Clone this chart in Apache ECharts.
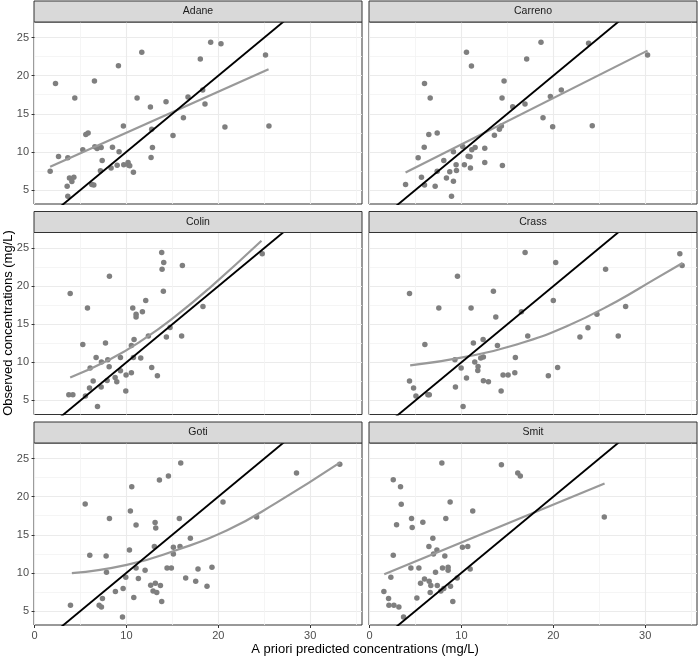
<!DOCTYPE html>
<html>
<head>
<meta charset="utf-8">
<style>html,body{margin:0;padding:0;background:#fff;}#c{width:699px;height:658px;}</style>
<script src="https://cdn.jsdelivr.net/npm/echarts@6/dist/echarts.min.js"></script>
</head>
<body>
<div id="c"></div>
<script>
const categories = ['Adane', 'Carreno', 'Colin', 'Crass', 'Goti', 'Smit'];
const xTicks = [0, 10, 20, 30];
const xMinor = [5, 15, 25, 35];
const yTicks = [5, 10, 15, 20, 25];
const yMinor = [7.5, 12.5, 17.5, 22.5];
const X_MIN = -0.06, X_MAX = 35.64, Y_MIN = 3.15, Y_MAX = 27.05;

const adane = [[1.70,7.46],[2.28,18.99],[2.61,9.39],[3.62,9.21],[3.55,5.48],[3.62,4.17],[3.80,6.58],[4.06,6.10],[4.28,6.67],[4.38,17.06],[5.25,10.26],[5.58,12.28],[5.83,12.46],[6.23,5.70],[6.45,5.66],[6.52,19.30],[6.56,10.66],[6.81,10.44],[7.25,10.57],[7.17,7.50],[7.36,8.86],[8.33,7.89],[8.48,10.61],[8.99,8.25],[9.13,21.32],[9.20,10.00],[9.67,13.38],[9.71,8.29],[10.18,8.60],[10.25,8.25],[10.36,8.16],[10.76,7.32],[11.16,17.06],[11.67,23.07],[12.61,15.88],[12.75,12.98],[12.83,10.57],[12.68,9.25],[14.31,16.58],[15.07,12.15],[16.20,14.47],[16.70,17.19],[18.04,22.19],[18.30,18.11],[18.55,16.27],[19.17,24.39],[20.29,24.21],[20.72,13.25],[25.14,22.72],[25.51,13.38]];
const carreno = [[3.92,5.70],[5.29,9.21],[5.65,6.67],[5.98,18.99],[5.95,10.61],[5.98,5.66],[6.45,12.28],[6.60,17.06],[7.14,5.48],[7.36,12.46],[7.36,7.46],[8.08,8.86],[8.37,6.58],[8.73,7.37],[8.92,4.17],[9.13,6.14],[9.13,10.00],[9.42,8.29],[9.46,7.54],[10.14,10.70],[10.32,8.29],[10.55,23.07],[10.73,9.43],[10.94,9.34],[10.98,7.89],[11.09,21.27],[11.13,10.26],[11.49,10.57],[12.54,10.48],[12.54,8.60],[13.59,12.19],[14.13,12.98],[14.35,13.38],[14.42,17.06],[14.46,8.20],[14.64,19.30],[15.58,15.92],[16.92,16.27],[17.10,22.19],[18.66,24.39],[18.88,14.47],[19.68,17.28],[19.93,13.29],[20.87,18.11],[23.84,24.25],[24.24,13.42],[30.26,22.72]];
const colin = [[3.73,5.74],[4.17,5.74],[3.88,19.05],[5.25,12.35],[5.54,5.57],[5.76,17.12],[5.98,6.62],[6.05,9.24],[6.38,7.54],[6.70,10.65],[6.85,4.21],[7.25,6.75],[7.28,10.03],[7.72,12.53],[7.90,7.63],[7.97,10.34],[8.12,9.42],[8.15,21.32],[8.77,8.02],[8.95,7.45],[9.35,10.65],[9.35,8.89],[9.96,8.33],[9.93,6.23],[10.54,8.63],[10.54,12.22],[10.69,17.12],[10.76,10.65],[10.83,13.01],[11.05,16.33],[11.05,15.94],[11.56,10.56],[11.74,16.64],[12.10,18.13],[12.39,13.45],[12.75,9.33],[13.37,8.24],[13.84,24.43],[13.88,22.24],[14.06,23.12],[14.02,19.35],[14.35,13.32],[14.75,14.58],[16.01,13.45],[16.09,22.72],[18.33,17.34],[24.78,24.26]];
const crass = [[4.35,7.54],[4.35,19.05],[4.79,6.62],[5.05,5.57],[6.02,12.35],[6.35,5.74],[6.50,5.74],[7.54,17.12],[9.29,10.34],[9.35,6.75],[9.57,21.32],[9.97,9.24],[10.18,4.21],[10.55,7.93],[11.05,17.12],[11.30,12.53],[11.45,10.03],[11.81,9.46],[11.78,8.94],[12.10,10.56],[12.39,10.69],[12.36,13.01],[12.39,7.58],[12.94,7.45],[13.48,19.35],[13.74,15.94],[13.92,12.22],[14.32,6.23],[14.53,8.33],[15.08,8.33],[15.81,8.63],[15.87,10.65],[16.53,16.64],[16.93,24.43],[17.22,13.45],[19.46,8.24],[20.00,18.13],[20.26,23.12],[20.47,9.33],[22.90,13.32],[23.77,14.54],[24.75,16.33],[25.69,22.24],[27.07,13.45],[27.87,17.34],[33.77,24.26],[34.02,22.72]];
const goti = [[3.91,5.74],[5.51,19.05],[6.01,12.31],[7.03,5.74],[7.28,5.52],[7.39,6.62],[7.79,12.22],[7.83,10.08],[8.15,17.12],[8.80,7.54],[9.57,4.21],[9.64,7.93],[9.93,9.42],[10.33,13.01],[10.43,18.13],[10.58,21.32],[10.80,6.75],[11.05,16.29],[11.05,10.65],[11.30,9.24],[12.03,10.34],[12.64,8.37],[12.90,7.63],[13.04,13.45],[13.12,16.60],[13.19,15.90],[13.15,8.63],[13.30,7.41],[13.59,22.20],[13.70,8.33],[13.84,6.23],[14.42,10.65],[14.57,22.72],[14.89,10.65],[15.11,13.36],[15.11,12.48],[15.76,17.12],[15.83,13.45],[15.91,24.43],[16.45,9.33],[16.96,14.54],[17.54,8.89],[17.79,10.51],[18.77,8.24],[19.31,10.73],[20.51,19.31],[24.17,17.34],[28.51,23.12],[33.22,24.26]];
const smit = [[1.56,7.54],[2.07,6.62],[2.11,5.74],[2.32,9.42],[2.58,22.24],[2.58,12.31],[2.65,5.74],[2.94,16.33],[3.19,5.52],[3.37,21.32],[3.45,19.00],[3.70,4.21],[4.50,10.65],[4.57,17.12],[4.64,15.94],[5.15,6.71],[5.37,10.65],[5.55,8.63],[5.80,16.64],[5.98,9.20],[6.46,13.45],[6.49,8.89],[6.60,7.41],[6.67,8.33],[6.89,14.54],[6.96,12.48],[7.18,10.08],[7.33,13.01],[7.37,8.33],[7.76,7.63],[7.87,24.43],[7.94,10.65],[8.08,7.93],[8.19,12.22],[8.30,17.12],[8.55,10.73],[8.55,10.34],[8.77,19.31],[8.81,8.24],[9.06,6.23],[9.54,9.33],[10.11,13.36],[10.69,13.45],[10.95,10.51],[11.23,18.13],[14.35,24.21],[16.13,23.12],[16.41,22.72],[25.55,17.34]];

const adaneFit = [[1.70,8.03],[25.47,20.83]];
const carrenoFit = [[3.92,7.28],[30.26,23.29]];
const colinFit = [[3.88,8.01],[8.23,10.40],[11.85,13.01],[15.48,16.20],[19.10,19.82],[24.70,25.96]];
const crassFit = [[4.42,9.59],[10.58,10.75],[16.02,12.35],[21.46,14.75],[26.89,18.00],[30.87,20.80],[34.07,23.05]];
const gotiFit = [[4.06,9.95],[10.04,11.04],[15.48,13.01],[20.91,15.55],[26.35,19.22],[33.23,24.47]];
const smitFit = [[1.60,9.81],[25.58,21.72]];

const points = [adane, carreno, colin, crass, goti, smit];
const fits = [adaneFit, carrenoFit, colinFit, crassFit, gotiFit, smitFit];

const FONT = 'Liberation Sans, Arial, sans-serif';
const colLeft = [34, 369];
const rowTop = [22, 232.5, 443];
const PW = 328, PH = 182, STRIP = 21;

const grids = [], xAxes = [], yAxes = [], series = [], graphics = [];
const xMinorAxes = [], yMinorAxes = [];
categories.forEach((name, i) => {
  const col = i % 2, row = Math.floor(i / 2);
  grids.push({left: colLeft[col], top: rowTop[row], width: PW, height: PH,
    show: true, borderColor: '#333333', borderWidth: 1, backgroundColor: 'transparent'});
  const showX = row === 2, showY = col === 0;
  xAxes.push({type: 'value', gridIndex: i, min: X_MIN, max: X_MAX, position: 'bottom',
    axisLine: {show: false},
    axisTick: {show: showX, customValues: xTicks, length: 3, lineStyle: {color: '#333333'}},
    axisLabel: {show: showX, customValues: xTicks, color: '#4D4D4D', fontSize: 11, margin: 5, fontFamily: FONT},
    splitLine: {show: true, lineStyle: {color: '#EBEBEB', width: 1.1}}});
  yAxes.push({type: 'value', gridIndex: i, min: Y_MIN, max: Y_MAX, position: 'left',
    axisLine: {show: false},
    axisTick: {show: showY, customValues: yTicks, length: 3, lineStyle: {color: '#333333'}},
    axisLabel: {show: showY, customValues: yTicks, color: '#4D4D4D', fontSize: 11, margin: 5, fontFamily: FONT},
    splitLine: {show: true, lineStyle: {color: '#EBEBEB', width: 1.1}}});
  xMinorAxes.push({type: 'value', gridIndex: i, min: X_MIN, max: X_MAX, position: 'top',
    axisLine: {show: false}, axisTick: {show: false, customValues: xMinor},
    axisLabel: {show: false, customValues: xMinor},
    splitLine: {show: true, lineStyle: {color: '#F2F2F2', width: 0.8}}});
  yMinorAxes.push({type: 'value', gridIndex: i, min: Y_MIN, max: Y_MAX, position: 'right',
    axisLine: {show: false}, axisTick: {show: false, customValues: yMinor},
    axisLabel: {show: false, customValues: yMinor},
    splitLine: {show: true, lineStyle: {color: '#F2F2F2', width: 0.8}}});

  series.push({type: 'scatter', xAxisIndex: i, yAxisIndex: i, data: points[i],
    symbolSize: 5.5, itemStyle: {color: '#7F7F7F', opacity: 1}, silent: true, z: 3});
  series.push({type: 'line', xAxisIndex: i, yAxisIndex: i, data: fits[i], smooth: 0.5,
    symbol: 'none', clip: true,
    lineStyle: {color: '#999999', width: 2.2}, silent: true, z: 4});
  series.push({type: 'line', xAxisIndex: i, yAxisIndex: i,
    data: [[X_MIN, X_MIN], [X_MAX, X_MAX]], symbol: 'none', clip: true,
    lineStyle: {color: '#000000', width: 1.9}, silent: true, z: 5});

  graphics.push({type: 'rect', shape: {x: colLeft[col], y: rowTop[row] - STRIP, width: PW, height: STRIP},
    style: {fill: '#D9D9D9', stroke: '#333333', lineWidth: 1}, z: 10});
  graphics.push({type: 'text', x: colLeft[col] + PW / 2, y: rowTop[row] - STRIP / 2,
    style: {text: name, fill: '#1A1A1A', font: '10.5px ' + FONT, align: 'center', verticalAlign: 'middle'}, z: 11});
});

graphics.push({type: 'text', x: 365, y: 649,
  style: {text: 'A priori predicted concentrations (mg/L)', fill: '#000000', font: '13px ' + FONT, align: 'center', verticalAlign: 'middle'}});
graphics.push({type: 'text', x: 8, y: 323, rotation: Math.PI / 2,
  style: {text: 'Observed concentrations (mg/L)', fill: '#000000', font: '13px ' + FONT, align: 'center', verticalAlign: 'middle'}});

const chart = echarts.init(document.getElementById('c'), null, {renderer: 'canvas'});
chart.setOption({
  animation: false,
  backgroundColor: '#ffffff',
  grid: grids,
  xAxis: xAxes.concat(xMinorAxes),
  yAxis: yAxes.concat(yMinorAxes),
  series: series,
  graphic: graphics
});
</script>
</body>
</html>
